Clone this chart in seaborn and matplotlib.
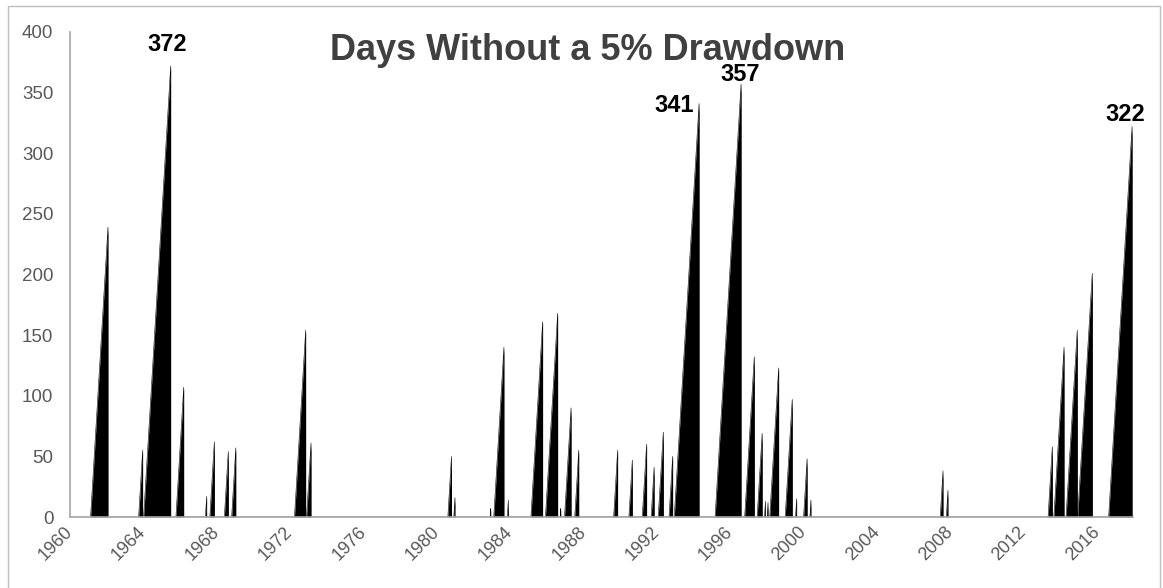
import numpy as np
import pandas as pd
import matplotlib
matplotlib.use("Agg")
import matplotlib.pyplot as plt
import seaborn as sns
from matplotlib.patches import Rectangle

sns.set_style("white")
plt.rcParams['font.family'] = ['Liberation Sans', 'DejaVu Sans']

# end of each run (decimal year) and length of the run in trading days
run_end = [1962.07, 1963.96, 1965.49, 1966.20, 1967.45, 1967.87, 1968.63, 1969.04,
           1972.85, 1973.14, 1980.80, 1980.99, 1982.94, 1983.66, 1983.90,
           1985.77, 1986.59, 1986.76, 1987.32, 1987.74,
           1989.86, 1990.66, 1991.44, 1991.85, 1992.35, 1992.86, 1994.30,
           1996.59, 1997.31, 1997.74, 1997.92, 1998.06, 1998.64, 1999.38,
           1999.62, 2000.19, 2000.40, 2007.60, 2007.87,
           2013.56, 2014.20, 2014.92, 2015.74, 2017.91]
run_days = [239, 55, 372, 107, 17, 62, 54, 57,
            154, 61, 50, 16, 7, 140, 14,
            161, 168, 7, 90, 55,
            55, 47, 60, 41, 70, 50, 341,
            357, 132, 69, 13, 12, 123, 97,
            15, 48, 14, 38, 22,
            58, 140, 154, 201, 322]
trading_days_per_year = 252

labelled_peaks = [372, 341, 357, 322]
year_ticks = list(range(1960, 2017, 4))
y_ticks = list(range(0, 401, 50))

# each run climbs from 0 to its count, then drops back to 0
rows = []
for end, days in zip(run_end, run_days):
    start = end - days / trading_days_per_year
    rows += [(start, 0), (end, days), (end, 0)]
df = pd.DataFrame(rows, columns=["year", "days"])

fig = plt.figure(figsize=(11.63, 5.88), dpi=100)
ax = fig.add_axes([70 / 1163, 1 - 517 / 588, 1063 / 1163, 485 / 588])

ax.fill_between(df["year"], df["days"], 0, color="black", lw=0)
sns.lineplot(data=df, x="year", y="days", ax=ax, color="black", lw=0.4,
             sort=False, estimator=None)

ax.set_xlim(1960, 1960 + 1063 / 18.34)
ax.set_ylim(0, 400)
ax.set_xticks(year_ticks)
ax.set_xticklabels([str(y) for y in year_ticks], rotation=45, ha="right", va="center",
                   rotation_mode="anchor", fontsize=13, color="#595959")
ax.set_yticks(y_ticks)
ax.set_yticklabels([str(v) for v in y_ticks], fontsize=13.5, color="#595959")
ax.tick_params(axis="both", length=0)
ax.tick_params(axis="x", pad=9)
ax.tick_params(axis="y", pad=12)
ax.set_xlabel("")
ax.set_ylabel("")

sns.despine(ax=ax)
for s in ["left", "bottom"]:
    ax.spines[s].set_color("#a6a6a6")
    ax.spines[s].set_linewidth(1.2)

# peak labels
offsets = {372: (-3, 10, "center", "bottom"), 341: (-5, -2, "right", "center"),
           357: (-1, -2, "center", "bottom"), 322: (-7, 1, "center", "bottom")}
for peak in labelled_peaks:
    i = run_days.index(peak)
    dx, dy, ha, va = offsets[peak]
    ax.annotate(str(peak), xy=(run_end[i], peak), xytext=(dx, dy),
                textcoords="offset pixels", ha=ha, va=va,
                fontsize=17, fontweight="bold", color="black")

fig.text(588 / 1163, 1 - 50 / 588, "Days Without a 5% Drawdown", ha="center",
         va="center", fontsize=26, fontweight="bold", color="#404040")

fig.patches.append(Rectangle((8 / 1163, -0.01), 1152 / 1163, 1.0, transform=fig.transFigure,
                             fill=False, edgecolor="#bfbfbf", lw=1))

fig.savefig("out.png", dpi=100)
